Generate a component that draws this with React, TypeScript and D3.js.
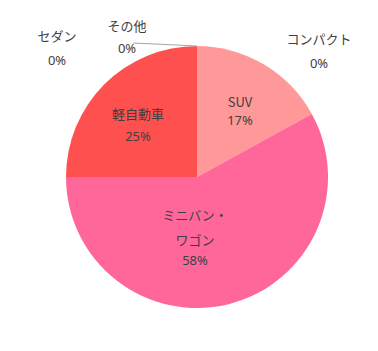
import { useEffect, useRef } from 'react';
import * as d3 from 'd3';

const categories = ['コンパクト', 'SUV', 'ミニバン・ワゴン', '軽自動車', 'セダン', 'その他'];
const values = [0, 17, 58, 25, 0, 0];
const percentLabels = ['0%', '17%', '58%', '25%', '0%', '0%'];
const nameLines = [['コンパクト'], ['SUV'], ['ミニバン・', 'ワゴン'], ['軽自動車'], ['セダン'], ['その他']];
const colors = ['#ffb3b3', '#ff9999', '#ff6699', '#ff5050', '#ff7777', '#ff8888'];

// label anchor points (x, name y, percent y) relative to pie centre
const labelPos: [number, number, number][] = [
  [122, -138, -114],
  [43, -75, -57],
  [-2, 38, 83],
  [-59, -63, -41],
  [-140, -141, -117],
  [-70, -151, -129],
];
const lineGap = [0, 0, 25, 0, 0, 0];

const App = () => {
  const svgRef = useRef<SVGSVGElement>(null);

  useEffect(() => {
    const svg = d3.select(svgRef.current);
    svg.selectAll('*').remove();

    const width = 378;
    const height = 351;
    const cx = 197;
    const cy = 177;
    const radius = 131;

    svg.attr('width', width).attr('height', height);

    const g = svg.append('g').attr('transform', `translate(${cx},${cy})`);

    const pie = d3
      .pie<number>()
      .sort(null)
      .value(d => d)
      .startAngle(0)
      .endAngle(2 * Math.PI);

    const arc = d3.arc<d3.PieArcDatum<number>>().innerRadius(0).outerRadius(radius);

    const arcs = pie(values);

    g.selectAll('path')
      .data(arcs.filter(d => d.value > 0))
      .enter()
      .append('path')
      .attr('d', arc)
      .attr('fill', (d) => colors[d.index]);

    // leader line for その他
    const endArc = arcs[5];
    const px = Math.sin(endArc.endAngle) * radius;
    const py = -Math.cos(endArc.endAngle) * radius;
    g.append('line')
      .attr('x1', labelPos[5][0] + 6)
      .attr('y1', -134)
      .attr('x2', px)
      .attr('y2', py)
      .attr('stroke', '#a6a6a6')
      .attr('stroke-width', 1);

    const text = g
      .selectAll('g.label')
      .data(categories)
      .enter()
      .append('g')
      .attr('class', 'label');

    text.each(function (name, i) {
      const lbl = d3.select(this);
      const [x, yName, yPct] = labelPos[i];
      nameLines[i].forEach((line, j) => {
        lbl
          .append('text')
          .attr('x', x)
          .attr('y', yName + j * lineGap[i])
          .attr('dy', '0.35em')
          .attr('text-anchor', 'middle')
          .attr('fill', '#404040')
          .style('font-family', '"Noto Sans CJK JP", "Noto Sans", sans-serif')
          .style('font-size', '13px')
          .text(line);
      });
      lbl
        .append('text')
        .attr('x', x)
        .attr('y', yPct)
        .attr('dy', '0.35em')
        .attr('text-anchor', 'middle')
        .attr('fill', '#404040')
        .style('font-family', '"Noto Sans", "Noto Sans CJK JP", sans-serif')
        .style('font-size', '13px')
        .text(percentLabels[i]);
    });
  }, []);

  return (
    <svg
      ref={svgRef}
      style={{ position: 'absolute', left: 0, top: 0, background: '#fff' }}
    ></svg>
  );
};

export default App;
